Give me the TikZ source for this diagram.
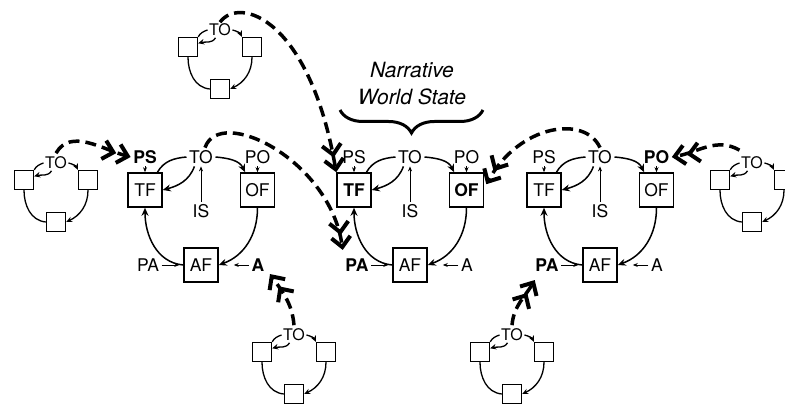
\documentclass[tikz,border=0pt]{standalone}
\usepackage{fontspec}
\setmainfont{TeX Gyre Heros}
\usetikzlibrary{arrows.meta,decorations.pathreplacing}
\newcommand\clusterat[8]{%
  \node[lbl] (#1TO) at (#2,247) {TO};
  \node[lbl] (#1PS) at ({#2-56},247) {#3};
  \node[box] (#1TF) at ({#2-56},214) {#4};
  \node[lbl] (#1PO) at ({#2+56.5},247) {#5};
  \node[box] (#1OF) at ({#2+56.5},214) {#6};
  \node[lbl] (#1IS) at (#2,193) {IS};
  \node[box] (#1AF) at (#2,139) {AF};
  \node[lbl] (#1PA) at ({#2-53},139) {#7};
  \node[lbl] (#1A) at ({#2+57},139) {#8};
  \draw[cyc] (#1TF.55) to[out=60,in=185] (#1TO.west);
  \draw[cyca] (#1TO.east) to[out=-5,in=115] (#1OF.125);
  \draw[cyca] (#1OF.south) to[out=-90,in=20] (#1AF.east);
  \draw[cyca] (#1AF.west) to[out=175,in=-90] (#1TF.south);
  \draw[cyca] (#1TO.-125) to[out=-110,in=15] (#1TF.east);
  \draw[tiny] (#1IS.north) -- (#1TO.south);
  \draw[tiny] (#1PS.south) -- (#1TF.north);
  \draw[tiny] (#1PO.south) -- (#1OF.north);
  \draw[tiny] (#1PA.east) -- ([xshift=-4pt]#1AF.west);
  \draw[tiny] (#1A.west) -- ([xshift=15pt]#1AF.east);
}
\newcommand\smallcyc[3]{%
  \node[slbl] (#1T) at (#2,#3) {TO};
  \node[sbox] (#1L) at ({#2-32},{#3-17}) {};
  \node[sbox] (#1R) at ({#2+32},{#3-17}) {};
  \node[sbox] (#1B) at (#2,{#3-59}) {};
  \draw[scyc] (#1L.north east) to[out=60,in=200] (#1T.west);
  \draw[scyca] (#1T.-120) to[out=-120,in=15] (#1L.20);
  \draw[scyca] (#1T.east) to[out=-15,in=115] (#1R.north west);
  \draw[scyca] (#1R.south) to[out=-90,in=25] (#1B.east);
  \draw[scyc] (#1L.south) to[out=-90,in=175] (#1B.west);
}
\begin{document}
\begin{tikzpicture}[x=1pt,y=1pt,
  lbl/.style={inner sep=2.5pt, font=\fontsize{17.5}{20}\selectfont},
  box/.style={draw, line width=1.6pt, minimum size=34pt, inner sep=0pt, fill=white, font=\fontsize{17.5}{20}\selectfont},
  sbox/.style={draw, line width=1.4pt, minimum size=19pt, inner sep=0pt, fill=white},
  slbl/.style={inner sep=1.5pt, font=\fontsize{16}{19}\selectfont},
  cyc/.style={line width=1.5pt},
  cyca/.style={line width=1.5pt, -{Stealth[length=8pt,width=7pt]}},
  tiny/.style={line width=0.8pt, -{Stealth[length=5pt,width=4pt]}},
  scyc/.style={line width=1.3pt},
  scyca/.style={line width=1.3pt, -{Stealth[length=6pt,width=5.5pt]}},
  flow/.style={line width=3.5pt, dash pattern=on 11pt off 6pt,
    -{Straight Barb[length=10pt,width=19pt,line width=4pt] Straight Barb[length=10pt,width=19pt,line width=4pt]}},
  bracestyle/.style={line width=3pt, decorate, decoration={brace, amplitude=23pt, mirror}},
]
\useasboundingbox (0,0) rectangle (785,404);

\clusterat{c1}{201}{\textbf{PS}}{TF}{PO}{OF}{PA}{\textbf{A}}
\clusterat{c2}{410}{PS}{\textbf{TF}}{PO}{\textbf{OF}}{\textbf{PA}}{A}
\clusterat{c3}{600}{PS}{TF}{\textbf{PO}}{OF}{\textbf{PA}}{A}

\smallcyc{l}{56}{241}
\smallcyc{t}{220}{374}
\smallcyc{bl}{294}{69}
\smallcyc{br}{512}{69}
\smallcyc{r}{752}{241}

\node[font=\fontsize{21}{27}\selectfont\itshape, align=center, inner sep=0pt] (nws) at (412,320) {Narrative\\World State};
\coordinate (brl) at (340,294);
\coordinate (brr) at (483,294);
\draw[bracestyle] (brl) -- (brr);

\draw[flow] ([yshift=2pt]lT.north) to[out=60,in=165] (c1PS.west);
\draw[flow] ([xshift=4pt]c1TO.north) .. controls (220,299) and (330,244) .. ([yshift=6pt]c2PA.north west);
\draw[flow] (tT.north) .. controls (240,409) and (310,384) .. (c2TF.north west);
\draw[flow] ([yshift=5pt]rT.north west) to[out=150,in=10] (c3PO.east);
\draw[flow] (c3TO.north) .. controls (585,289) and (520,280) .. ([xshift=2pt]c2OF.18);
\draw[flow] ([yshift=2pt]blT.north) to[out=95,in=-55] ([xshift=3pt]c1A.south east);
\draw[flow] ([yshift=2pt]brT.north) to[out=85,in=-120] ([yshift=-6pt,xshift=2pt]c3PA.south west);
\end{tikzpicture}
\end{document}
